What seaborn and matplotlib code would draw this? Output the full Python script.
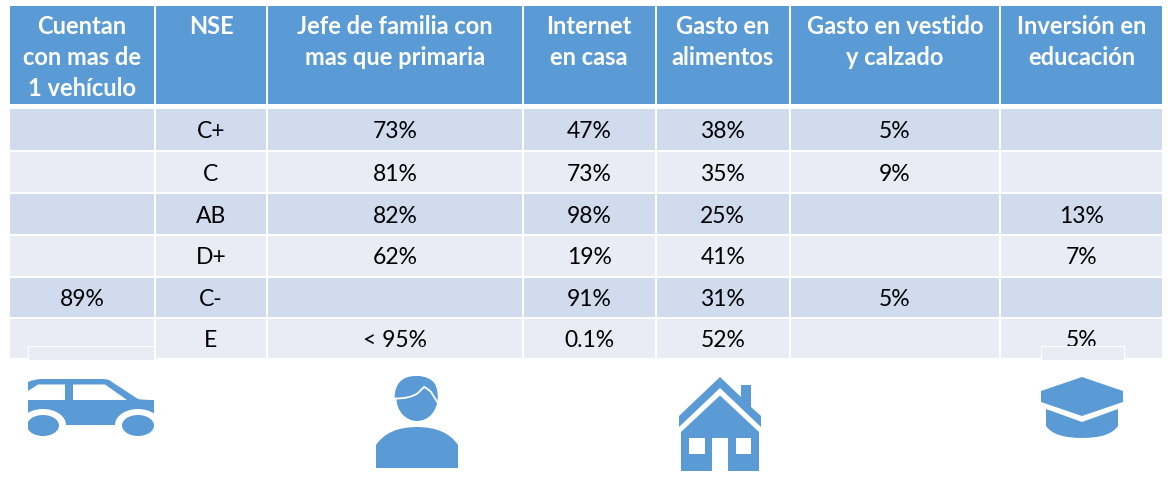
import numpy as np
import matplotlib
matplotlib.use("Agg")
import matplotlib.pyplot as plt
from matplotlib.colors import ListedColormap
from matplotlib.patches import Polygon, Ellipse, Rectangle, PathPatch
from matplotlib.path import Path
import seaborn as sns

# ---- table content ----
headers = ["Cuentan\ncon mas de\n1 vehículo", "NSE", "Jefe de familia con\nmas que primaria",
           "Internet\nen casa", "Gasto en\nalimentos", "Gasto en vestido\ny calzado", "Inversión en\neducación"]
vehiculo = ["", "", "", "", "89%", ""]
nse = ["C+", "C", "AB", "D+", "C-", "E"]
jefe = ["73%", "81%", "82%", "62%", "", "< 95%"]
internet = ["47%", "73%", "98%", "19%", "91%", "0.1%"]
alimentos = ["38%", "35%", "25%", "41%", "31%", "52%"]
vestido = ["5%", "9%", "", "", "5%", ""]
educacion = ["", "", "13%", "7%", "", "5%"]

BLUE = "#5B9BD5"
BAND1 = "#D0DBEE"
BAND2 = "#E9ECF5"
W, H = 1171, 480

sns.set_theme(style="white")
plt.rcParams["font.family"] = ["Lato", "DejaVu Sans"]
fig = plt.figure(figsize=(W / 100, H / 100), dpi=100, facecolor="white")

col_edges = np.array([9, 155, 267, 523, 655.5, 790, 1000, 1163], dtype=float)
col_idx = np.arange(len(col_edges), dtype=float)
row_edges = np.array([108.5, 151.5, 193.5, 235.5, 277, 318.5, 359.5], dtype=float)
row_idx = np.arange(len(row_edges), dtype=float)


def add_ax(x0, y0, x1, y1, **kw):
    return fig.add_axes([x0 / W, 1 - y1 / H, (x1 - x0) / W, (y1 - y0) / H], **kw)


def px_scale(ax):
    f = lambda v: np.interp(v, col_idx, col_edges)
    g = lambda v: np.interp(v, col_edges, col_idx)
    ax.set_xscale("function", functions=(f, g))
    ax.set_xlim(0, len(col_edges) - 1)
    ax.set_xticks([]); ax.set_yticks([])
    ax.minorticks_off()


# body
body = np.array([vehiculo, nse, jefe, internet, alimentos, vestido, educacion]).T
bands = np.array([[i % 2] * body.shape[1] for i in range(body.shape[0])])
ax_b = add_ax(9, 108.5, 1163, 359.5)
sns.heatmap(bands, ax=ax_b, cmap=ListedColormap([BAND1, BAND2]), cbar=False, annot=body, fmt="",
            annot_kws={"color": "black", "fontsize": 16.5}, linewidths=1.2, linecolor="white",
            xticklabels=False, yticklabels=False)
px_scale(ax_b)
ax_b.set_yscale("function", functions=(lambda v: np.interp(v, row_idx, row_edges),
                                       lambda v: np.interp(v, row_edges, row_idx)))
ax_b.set_ylim(len(nse), 0)
ax_b.set_yticks([]); ax_b.minorticks_off()
for t in ax_b.texts:
    x_, y_ = t.get_position()
    t.set_position((x_, y_ + 0.04))

# header
ax_h = add_ax(9, 5, 1163, 105)
sns.heatmap(np.zeros((1, len(headers))), ax=ax_h, cmap=ListedColormap([BLUE]), cbar=False,
            linewidths=1.2, linecolor="white", xticklabels=False, yticklabels=False)
px_scale(ax_h)
for i, t in enumerate(headers):
    ax_h.text(i + 0.5, 0.10, t, ha="center", va="top", color="white", fontsize=17,
              fontweight="bold", linespacing=1.41)

# overlay for pictograms
ov = add_ax(0, 0, W, H)
ov.set_xlim(0, W); ov.set_ylim(H, 0); ov.axis("off"); ov.patch.set_alpha(0)
ov.set_zorder(5)


def poly(pts, c=BLUE, **kw):
    p = Polygon(pts, closed=True, fc=c, ec="none", **kw)
    ov.add_patch(p)
    return p


def curve(verts, codes, c=BLUE):
    p = PathPatch(Path(verts, codes), fc=c, ec="none")
    ov.add_patch(p)
    return p


M, L, C3, Z = Path.MOVETO, Path.LINETO, Path.CURVE3, Path.CLOSEPOLY

# leftover placeholder frames
ov.add_patch(Rectangle((27.5, 345.5), 126.5, 14, fc=BAND2, ec="white", lw=0.8))
ov.add_patch(Rectangle((1040.5, 345.5), 83, 14, fc=BAND2, ec="white", lw=0.8))

# car
clip = Rectangle((28, 370), 126, 70, transform=ov.transData)
car = [
    curve([(28, 382), (34, 379), (42, 379), (103, 379), (109, 379), (112, 382), (138, 399), (142, 400),
           (154, 400), (154, 425), (28, 425), (28, 382)],
          [M, C3, C3, L, C3, C3, L, C3, C3, L, L, Z]),
    ov.add_patch(Ellipse((43, 425), 46, 32, fc="white", ec="none")),
    ov.add_patch(Ellipse((138, 425), 46, 32, fc="white", ec="none")),
    ov.add_patch(Ellipse((43, 425.5), 32, 21, fc=BLUE, ec="none")),
    ov.add_patch(Ellipse((138, 425.5), 32, 21, fc=BLUE, ec="none")),
    poly([(28, 391), (38, 384.5), (65, 384.5), (65, 400), (28, 400)], c="white"),
    poly([(73, 384.5), (105, 384.5), (127, 400), (73, 400)], c="white"),
]
for a in car:
    a.set_clip_path(clip)

# person
ov.add_patch(Ellipse((417, 398.5), 41, 45, fc=BLUE, ec="none"))
curve([(394.5, 398), (395, 376), (416, 376), (430, 376), (435, 384), (439, 392), (437, 402), (425, 390), (394.5, 398)],
      [M, C3, C3, C3, C3, C3, C3, L, Z])
ov.add_patch(PathPatch(Path([(393, 398.5), (410, 399), (418, 393), (424, 387), (427, 388), (431, 392), (438, 403)],
                            [M, C3, C3, L, C3, C3, L]), fc="none", ec="white", lw=1.3))
curve([(376, 445), (388, 427), (417, 427), (446, 427), (458, 445), (458, 468), (376, 468), (376, 445)],
      [M, C3, C3, C3, C3, L, L, Z])

# house
poly([(679, 416), (720, 377), (741, 397), (741, 385), (751, 385), (751, 407), (761, 416), (761, 427),
      (720, 388), (679, 427)])
poly([(681, 432), (720, 395.5), (759, 432), (759, 471), (681, 471)])
poly([(689, 438), (704.5, 438), (704.5, 454), (689, 454)], c="white")
poly([(735.5, 438), (751, 438), (751, 454), (735.5, 454)], c="white")
poly([(712, 438), (728, 438), (728, 471), (712, 471)], c="white")

# mortarboard
poly([(1041, 391), (1082, 377), (1123, 391), (1123, 402), (1082, 416), (1041, 402)])
curve([(1046, 409), (1082, 422), (1118, 409), (1118, 426), (1110, 438), (1082, 438), (1054, 438), (1046, 426), (1046, 409)],
      [M, L, L, L, C3, C3, C3, C3, Z])

fig.savefig("out.png", dpi=100, facecolor="white")
